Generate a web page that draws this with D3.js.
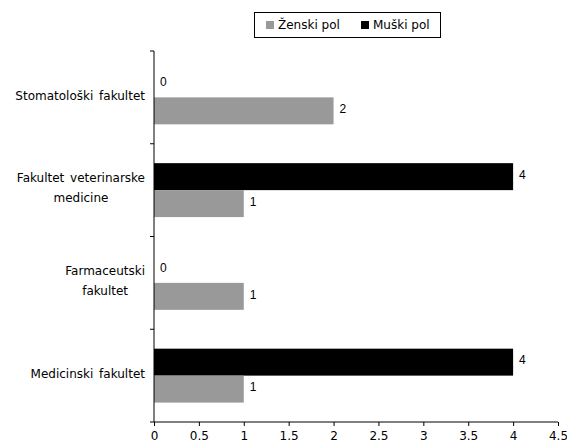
<!DOCTYPE html>
<html>
<head>
<meta charset="utf-8">
<script src="https://cdn.jsdelivr.net/npm/d3@7"></script>
<style>
  body { margin: 0; background: #fff; }
  svg { display: block; }
</style>
</head>
<body>
<svg id="chart" width="567" height="447"></svg>
<script>
// categories top to bottom
var categories = ["Stomatološki fakultet", "Fakultet veterinarske medicine", "Farmaceutski fakultet", "Medicinski fakultet"];
var categoryLines = [["Stomatološki fakultet"], ["Fakultet veterinarske", "medicine"], ["Farmaceutski", "fakultet"], ["Medicinski fakultet"]];
var seriesNames = ["Muški pol", "Ženski pol"];
var muski = [0, 4, 0, 4];
var zenski = [2, 1, 1, 1];
var xTicks = [0, 0.5, 1, 1.5, 2, 2.5, 3, 3.5, 4, 4.5];
var colors = {"Muški pol": "#000000", "Ženski pol": "#999999"};

var svg = d3.select("#chart");
var plotLeft = 154, plotRight = 558, plotTop = 51, plotBottom = 422;

var x = d3.scaleLinear().domain([0, 4.5]).range([plotLeft, plotRight]);
var y = d3.scaleBand().domain(categories).range([plotTop, plotBottom]);
var inner = d3.scaleBand().domain(seriesNames).range([0, y.bandwidth()]).paddingOuter(0.72);

var rows = [];
categories.forEach(function(c, i){
  rows.push({cat: c, s: "Muški pol", v: muski[i]});
  rows.push({cat: c, s: "Ženski pol", v: zenski[i]});
});

svg.selectAll("rect.bar").data(rows).enter().append("rect")
  .attr("class", "bar")
  .attr("x", x(0))
  .attr("y", function(d){ return y(d.cat) + inner(d.s); })
  .attr("width", function(d){ return x(d.v) - x(0); })
  .attr("height", inner.bandwidth())
  .attr("fill", function(d){ return colors[d.s]; });

svg.selectAll("text.val").data(rows).enter().append("text")
  .attr("class", "val")
  .attr("x", function(d){ return x(d.v) + 6; })
  .attr("y", function(d){ return y(d.cat) + inner(d.s) + inner.bandwidth()/2 - 2; })
  .attr("dy", "0.35em")
  .attr("font-family", "Liberation Sans, Arial, sans-serif")
  .attr("font-size", 12)
  .text(function(d){ return d.v; });

// x axis
var xAxis = svg.append("g")
  .attr("transform", "translate(0," + plotBottom + ")")
  .call(d3.axisBottom(x).tickValues(xTicks).tickSize(4).tickPadding(5).tickFormat(function(d){ return String(d); }));
xAxis.select(".domain").attr("d", "M" + plotLeft + ",0H" + plotRight).attr("stroke", "#000");
xAxis.selectAll("text").attr("font-family", "DejaVu Sans, sans-serif").attr("font-size", 12).attr("fill", "#000");

// y axis with ticks at category boundaries
var yAxis = svg.append("g");
yAxis.append("line").attr("x1", plotLeft).attr("x2", plotLeft).attr("y1", plotTop).attr("y2", plotBottom).attr("stroke", "#000");
var bounds = categories.map(function(c){ return y(c); }).concat([plotBottom]);
yAxis.selectAll("line.tk").data(bounds).enter().append("line")
  .attr("class", "tk")
  .attr("x1", plotLeft - 4).attr("x2", plotLeft)
  .attr("y1", function(d){ return d; }).attr("y2", function(d){ return d; })
  .attr("stroke", "#000");

// category labels, centred text blocks aligned to the axis
categories.forEach(function(c, i){
  var lines = categoryLines[i];
  var g = svg.append("g");
  var t = g.selectAll("text").data(lines).enter().append("text")
    .attr("font-family", "DejaVu Sans, sans-serif")
    .attr("font-size", 12)
    .attr("word-spacing", 2)
    .attr("text-anchor", "middle")
    .attr("dy", "0.35em")
    .text(function(d){ return d; });
  var w = 0;
  t.each(function(){ w = Math.max(w, this.getComputedTextLength()); });
  var cx = 145 - w / 2;
  var cy = y(c) + y.bandwidth() / 2 - 2 - (lines.length - 1) * 10;
  t.attr("x", cx).attr("y", function(d, j){ return cy + j * 20; });
});

// legend
var legend = svg.append("g");
legend.append("rect").attr("x", 254.5).attr("y", 12.5).attr("width", 186).attr("height", 25)
  .attr("fill", "#fff").attr("stroke", "#000");
var legItems = ["Ženski pol", "Muški pol"];
var legX = [266, 361];
legItems.forEach(function(s, i){
  legend.append("rect").attr("x", legX[i]).attr("y", 21).attr("width", 8).attr("height", 8).attr("fill", colors[s]);
  legend.append("text").attr("x", legX[i] + 12).attr("y", 25).attr("dy", "0.35em")
    .attr("font-family", "DejaVu Sans, sans-serif").attr("font-size", 12).text(s);
});
</script>
</body>
</html>
